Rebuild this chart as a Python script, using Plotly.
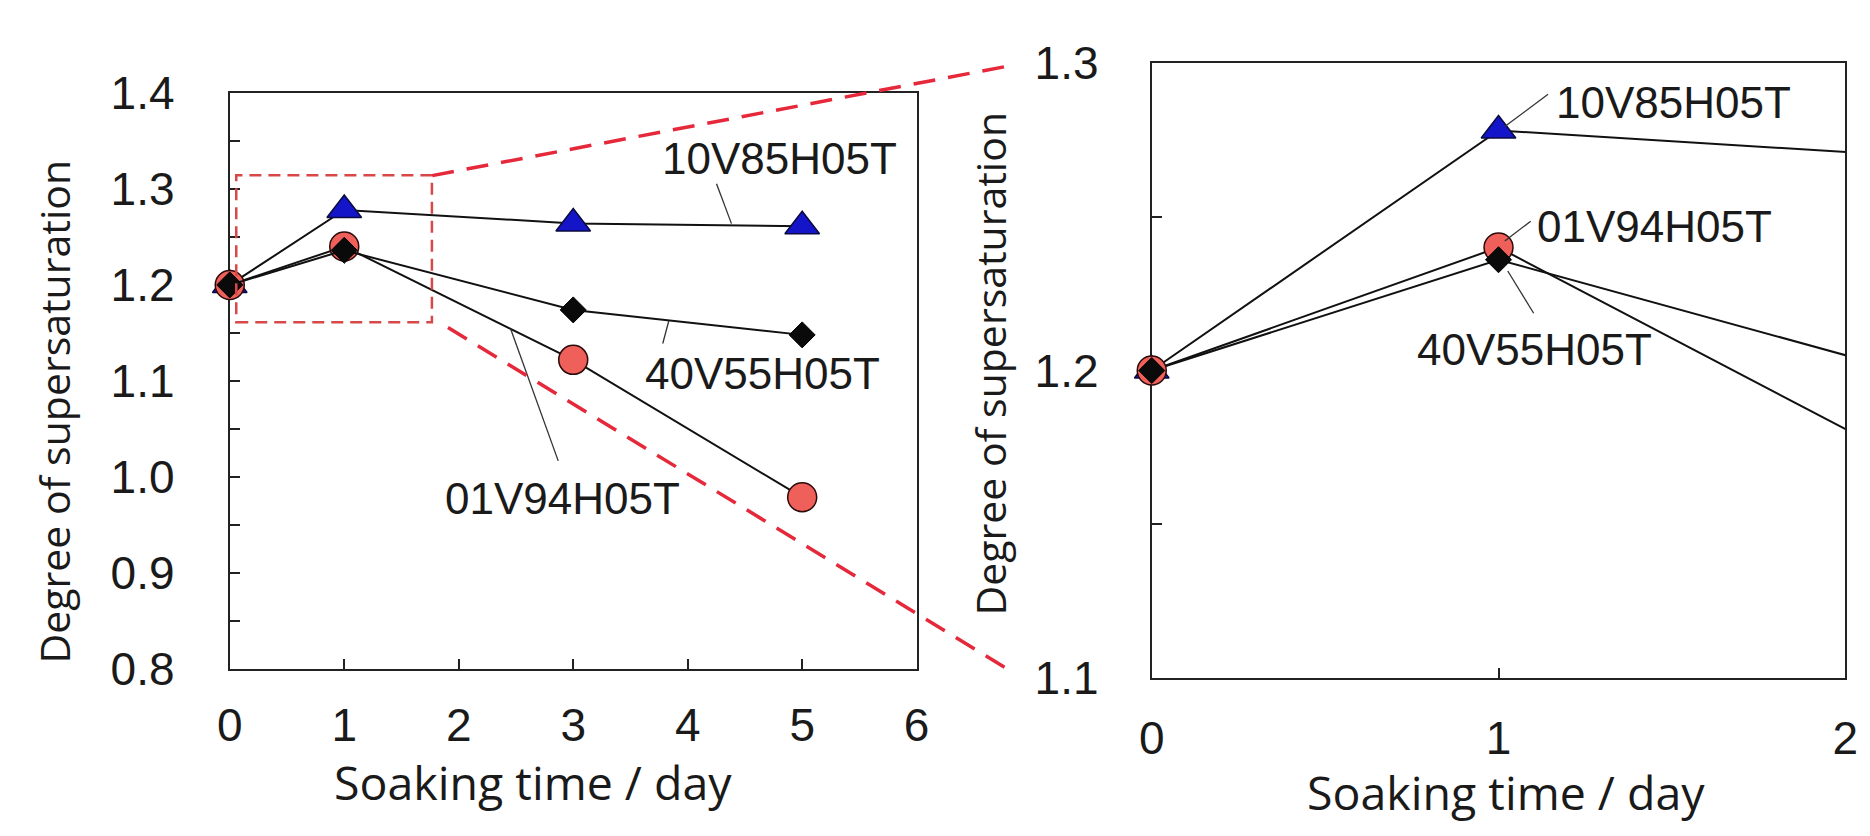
import plotly.graph_objects as go

W, H = 1870, 836

# ---------------- data ----------------
days = [0, 1, 3, 5]
s_10V85H05T = [1.200, 1.278, 1.264, 1.261]
s_01V94H05T = [1.200, 1.240, 1.122, 0.979]
s_40V55H05T = [1.200, 1.236, 1.174, 1.148]
series_names = ["10V85H05T", "01V94H05T", "40V55H05T"]

left_x_ticks = [0, 1, 2, 3, 4, 5, 6]
left_y_ticks = [0.8, 0.9, 1.0, 1.1, 1.2, 1.3, 1.4]
right_x_ticks = [0, 1, 2]
right_y_ticks = [1.1, 1.2, 1.3]
x_title = "Soaking time / day"
y_title = "Degree of supersaturation"

# ---------------- helpers ----------------
def px(x):
    return x / W

def py(y):
    return 1 - y / H

styles = {
    "10V85H05T": dict(symbol="triangle-up", size=30, color="#1414C8", line=dict(width=1.5, color="#0a0a40")),
    "01V94H05T": dict(symbol="circle", size=29, color="#F0605A", line=dict(width=1.5, color="#2a0a0a")),
    "40V55H05T": dict(symbol="diamond", size=20, color="#0a0a0a", line=dict(width=1, color="#000000")),
}
values = {"10V85H05T": s_10V85H05T, "01V94H05T": s_01V94H05T, "40V55H05T": s_40V55H05T}

fig = go.Figure()

# left panel
for name in series_names:
    fig.add_trace(go.Scatter(
        x=days, y=values[name], mode="lines+markers", name=name,
        line=dict(color="#111111", width=2), marker=styles[name],
        cliponaxis=False, xaxis="x", yaxis="y", showlegend=False))

# right panel (lines clipped, markers only those inside range)
xmax_r = right_x_ticks[-1]
for name in series_names:
    fig.add_trace(go.Scatter(
        x=days, y=values[name], mode="lines",
        line=dict(color="#111111", width=2),
        xaxis="x2", yaxis="y2", showlegend=False))
for name in series_names:
    xs = [d for d in days if d <= xmax_r]
    ys = [v for d, v in zip(days, values[name]) if d <= xmax_r]
    fig.add_trace(go.Scatter(
        x=xs, y=ys, mode="markers", marker=styles[name],
        cliponaxis=False, xaxis="x2", yaxis="y2", showlegend=False))

tickfont = dict(family="Liberation Sans, Arial, sans-serif", size=46, color="#1a1a1a")
axis_common = dict(
    showgrid=False, zeroline=False, showline=True, mirror=True,
    linecolor="#222222", linewidth=2, ticks="inside", ticklen=10, tickwidth=2,
    tickcolor="#222222", tickfont=tickfont, layer="below traces",
)

fig.update_layout(
    width=W, height=H, margin=dict(l=0, r=0, t=0, b=0),
    paper_bgcolor="white", plot_bgcolor="white",
    xaxis=dict(axis_common, domain=[px(211.7), px(908.3)], range=[0, 6],
               tickvals=left_x_ticks, anchor="y", ticklabelstandoff=15),
    yaxis=dict(axis_common, domain=[py(677.3), py(62.7)], range=[0.8, 1.4],
               tickvals=left_y_ticks, tickformat=".1f", anchor="x", ticklabelstandoff=44,
               minor=dict(dtick=0.05, ticks="inside", ticklen=10, tickwidth=2, tickcolor="#222222")),
    xaxis2=dict(axis_common, domain=[px(1146.7), px(1850)], range=[0, 2],
                tickvals=right_x_ticks, anchor="y2", ticklabelstandoff=19),
    yaxis2=dict(axis_common, domain=[py(687), py(30.7)], range=[1.1, 1.3],
                tickvals=right_y_ticks, tickformat=".1f", anchor="x2", ticklabelstandoff=42,
                minor=dict(dtick=0.05, ticks="inside", ticklen=10, tickwidth=2, tickcolor="#222222")),
)

xtitlefont = dict(family="Open Sans, sans-serif", size=46.5, color="#1a1a1a")
ytitlefont = dict(family="Open Sans, sans-serif", size=41, color="#1a1a1a")
labfont = dict(family="Liberation Sans, Arial, sans-serif", size=44, color="#1a1a1a")

ann = []
# axis titles
ann.append(dict(text=x_title, x=px(519), y=py(798), font=xtitlefont))
ann.append(dict(text=y_title, x=px(33), y=py(403), font=ytitlefont, textangle=-90))
ann.append(dict(text=x_title, x=px(1506), y=py(808), font=xtitlefont))
ann.append(dict(text=y_title, x=px(983), y=py(351), font=ytitlefont, textangle=-90))
# series labels: left
ann.append(dict(text=series_names[0], x=px(769), y=py(133), font=labfont))
ann.append(dict(text=series_names[2], x=px(752), y=py(362), font=labfont))
ann.append(dict(text=series_names[1], x=px(549), y=py(495), font=labfont))
# series labels: right
ann.append(dict(text=series_names[0], x=px(1676), y=py(73), font=labfont))
ann.append(dict(text=series_names[1], x=px(1657), y=py(205), font=labfont))
ann.append(dict(text=series_names[2], x=px(1535), y=py(336), font=labfont))
for a in ann:
    a.update(xref="paper", yref="paper", showarrow=False, xanchor="center", yanchor="middle")
fig.update_layout(annotations=ann)

shapes = []
leaders = [
    ((705.3, 159.6), (720.5, 202.2)),
    ((650.8, 330.0), (656.9, 306.0)),
    ((544.8, 455.2), (496.4, 314.1)),
    ((1548.6, 64.2), (1504.7, 98.7)),
    ((1531.0, 199.6), (1504.7, 220.8)),
    ((1534.0, 297.8), (1507.7, 252.7)),
]
for (x0, y0), (x1, y1) in leaders:
    shapes.append(dict(type="line", xref="paper", yref="paper",
                       x0=px(x0), y0=py(y0), x1=px(x1), y1=py(y1),
                       line=dict(color="#333333", width=1.3), layer="above"))
# zoom box
shapes.append(dict(type="rect", xref="paper", yref="paper",
                   x0=px(218.3), y0=py(307.3), x1=px(416.7), y1=py(150.7),
                   line=dict(color="#D84848", width=2.5, dash="12px,7px"), layer="above"))
# connecting lines
for (x0, y0), (x1, y1) in [((417, 151), (1007, 33)), ((433, 313), (1008, 682))]:
    shapes.append(dict(type="line", xref="paper", yref="paper",
                       x0=px(x0), y0=py(y0), x1=px(x1), y1=py(y1),
                       line=dict(color="#E5283A", width=3.5, dash="22px,13px"), layer="above"))
fig.update_layout(shapes=shapes)

fig.write_html("out.html")
